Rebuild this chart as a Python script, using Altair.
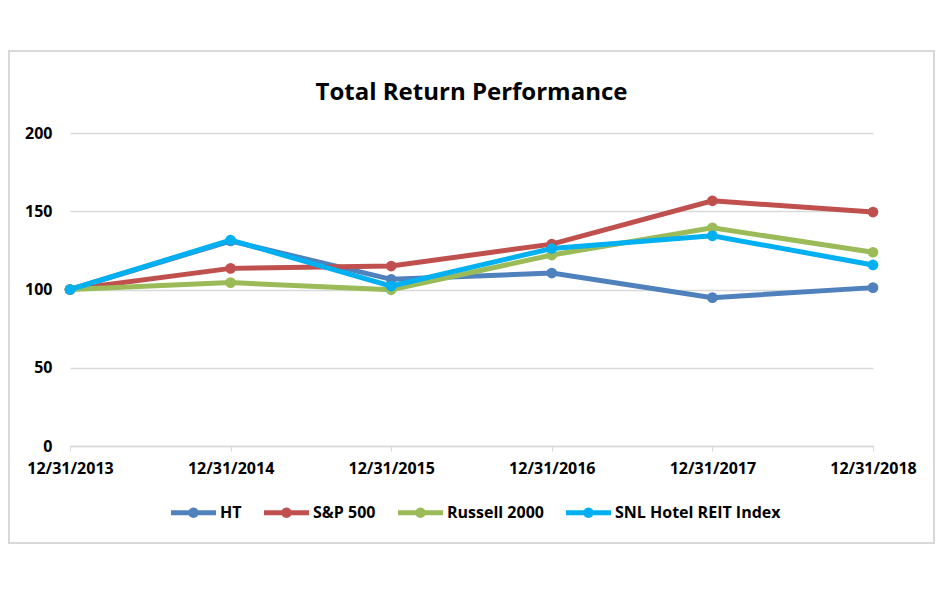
import altair as alt
import pandas as pd

dates = ["12/31/2013", "12/31/2014", "12/31/2015", "12/31/2016", "12/31/2017", "12/31/2018"]
series_names = ["HT", "S&P 500", "Russell 2000", "SNL Hotel REIT Index"]
ht = [100, 131.0, 106.5, 110.5, 94.8, 101.2]
sp500 = [100, 113.5, 115.0, 129.0, 156.7, 149.5]
russell = [100, 104.4, 99.8, 122.0, 139.4, 123.8]
snl = [100, 131.6, 102.2, 126.2, 134.3, 115.7]
colors = ["#4F81BD", "#C0504D", "#9BBB59", "#00B0F0"]
y_ticks = [0, 50, 100, 150, 200]
title_text = "Total Return Performance"

rows = []
for name, vals in zip(series_names, [ht, sp500, russell, snl]):
    for d, v in zip(dates, vals):
        rows.append({"date": d, "series": name, "value": v})
df = pd.DataFrame(rows)

FONT = "Open Sans"

x_enc = alt.X("date:O", sort=dates, title=None,
              scale=alt.Scale(type="point", padding=0),
              axis=alt.Axis(labelAngle=0, labelFont=FONT, labelFontSize=16, labelFontWeight="bold",
                            labelColor="black", labelPadding=9, ticks=True, tickSize=5,
                            tickColor="#d9d9d9", domainColor="#d9d9d9", domainWidth=1.5, grid=False))
y_enc = alt.Y("value:Q", title=None,
              scale=alt.Scale(domain=[0, 200], nice=False),
              axis=alt.Axis(values=y_ticks, labelFont=FONT, labelFontSize=16, labelFontWeight="bold",
                            labelColor="black", labelPadding=18, ticks=False, domain=False,
                            grid=True, gridColor="#d9d9d9", gridWidth=1.5))
color_scale = alt.Scale(domain=series_names, range=colors)

legend_path = "M-1,-0.11H1V0.11H-1Z M0.23,0A0.23,0.23 0 1,1 -0.23,0A0.23,0.23 0 1,1 0.23,0Z"

lines = alt.Chart(df).mark_line(strokeWidth=5).encode(
    x=x_enc, y=y_enc,
    color=alt.Color("series:N", scale=color_scale, sort=series_names, legend=None),
)
points = alt.Chart(df).mark_circle(size=115, opacity=1).encode(
    x=x_enc, y=y_enc,
    color=alt.Color("series:N", scale=color_scale, sort=series_names,
                    legend=alt.Legend(title=None, orient="none", direction="horizontal",
                                      legendX=100, legendY=356,
                                      symbolType=legend_path, symbolSize=2025,
                                      labelFont=FONT, labelFontSize=16, labelFontWeight="bold",
                                      labelColor="black", labelOffset=3, columnPadding=21,
                                      labelLimit=0)),
)

border = alt.Chart(alt.Data(values=[{}])).mark_rect(
    fill="white", fillOpacity=0, stroke="#d9d9d9", strokeWidth=2
).encode(x=alt.value(-61), x2=alt.value(864), y=alt.value(-82), y2=alt.value(410))

title = alt.Chart(alt.Data(values=[{"t": title_text}])).mark_text(
    font=FONT, fontSize=24, fontWeight="bold", color="black", baseline="alphabetic", align="center"
).encode(text="t:N", x=alt.value(401.5), y=alt.value(-33))

chart = alt.layer(border, title, lines, points).properties(
    width=803, height=313,
    padding={"left": 62, "top": 125, "right": 62, "bottom": 107},
    autosize=alt.AutoSizeParams(type="none"),
    background="white",
).resolve_legend(color="independent").configure_view(stroke=None)

chart.save("out.html", embed_options={"renderer": "svg", "actions": False})
